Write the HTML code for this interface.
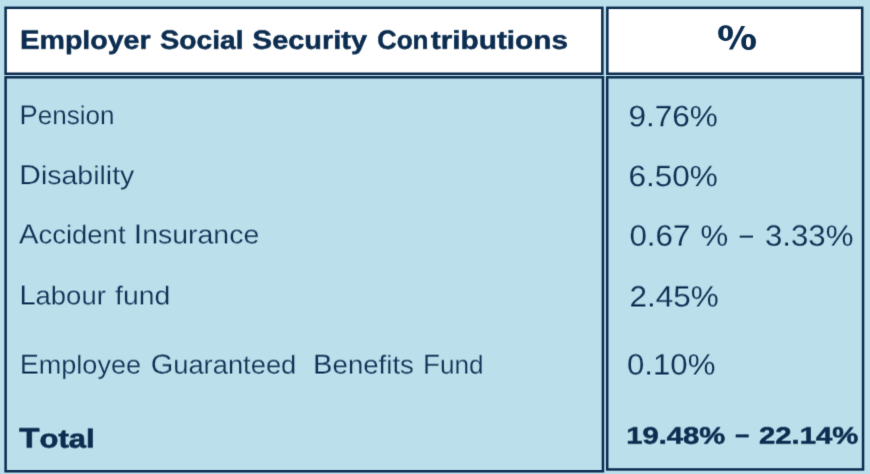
<!DOCTYPE html><html><head><meta charset="utf-8"><title>Employer Social Security Contributions</title><style>
html,body{margin:0;padding:0;}
body{width:870px;height:474px;overflow:hidden;background:#bbdfeb;position:relative;}
svg text{font-family:"Liberation Sans",sans-serif;white-space:pre;text-rendering:geometricPrecision;}
</style></head><body>
<svg width="870" height="474" viewBox="0 0 870 474" style="position:absolute;left:0;top:0;will-change:transform"><defs><filter id="bl" x="0" y="0" width="100%" height="100%" color-interpolation-filters="sRGB"><feConvolveMatrix order="3" kernelMatrix="0.01134 0.08382 0.01134 0.08382 0.61935 0.08382 0.01134 0.08382 0.01134" edgeMode="duplicate" preserveAlpha="true"/></filter><filter id="t0" filterUnits="userSpaceOnUse" x="0" y="0" width="870" height="474" color-interpolation-filters="sRGB"><feConvolveMatrix order="3" kernelMatrix="0.04806 0.35513 0.04806 0.05831 0.43087 0.05831 0.00013 0.00098 0.00013" edgeMode="none" preserveAlpha="false"/></filter><filter id="t1" filterUnits="userSpaceOnUse" x="0" y="0" width="870" height="474" color-interpolation-filters="sRGB"><feConvolveMatrix order="3" kernelMatrix="0.03848 0.28430 0.03848 0.06683 0.49383 0.06683 0.00120 0.00885 0.00120" edgeMode="none" preserveAlpha="false"/></filter><filter id="t2" filterUnits="userSpaceOnUse" x="0" y="0" width="870" height="474" color-interpolation-filters="sRGB"><feConvolveMatrix order="3" kernelMatrix="0.02609 0.19281 0.02609 0.07562 0.55876 0.07562 0.00479 0.03541 0.00479" edgeMode="none" preserveAlpha="false"/></filter><filter id="t3" filterUnits="userSpaceOnUse" x="0" y="0" width="870" height="474" color-interpolation-filters="sRGB"><feConvolveMatrix order="3" kernelMatrix="0.00852 0.06296 0.00852 0.07882 0.58237 0.07882 0.01917 0.14166 0.01917" edgeMode="none" preserveAlpha="false"/></filter><filter id="t4" filterUnits="userSpaceOnUse" x="0" y="0" width="870" height="474" color-interpolation-filters="sRGB"><feConvolveMatrix order="3" kernelMatrix="0.00652 0.04820 0.00652 0.07748 0.57253 0.07748 0.02250 0.16625 0.02250" edgeMode="none" preserveAlpha="false"/></filter><filter id="t5" filterUnits="userSpaceOnUse" x="0" y="0" width="870" height="474" color-interpolation-filters="sRGB"><feConvolveMatrix order="3" kernelMatrix="0.00333 0.02459 0.00333 0.07322 0.54105 0.07322 0.02996 0.22134 0.02996" edgeMode="none" preserveAlpha="false"/></filter><filter id="t6" filterUnits="userSpaceOnUse" x="0" y="0" width="870" height="474" color-interpolation-filters="sRGB"><feConvolveMatrix order="3" kernelMatrix="0.00053 0.00393 0.00053 0.06284 0.46432 0.06284 0.04314 0.31873 0.04314" edgeMode="none" preserveAlpha="false"/></filter><filter id="t7" filterUnits="userSpaceOnUse" x="0" y="0" width="870" height="474" color-interpolation-filters="sRGB"><feConvolveMatrix order="3" kernelMatrix="0.00000 0.00000 0.00000 0.05325 0.39349 0.05325 0.05325 0.39349 0.05325" edgeMode="none" preserveAlpha="false"/></filter><filter id="t8" filterUnits="userSpaceOnUse" x="0" y="0" width="870" height="474" color-interpolation-filters="sRGB"><feConvolveMatrix order="3" kernelMatrix="0.00013 0.00098 0.00013 0.04766 0.35218 0.04766 0.05871 0.43383 0.05871" edgeMode="none" preserveAlpha="false"/></filter></defs><g filter="url(#bl)"><rect x="0" y="0" width="870" height="474" fill="#bbdfeb"/><rect x="4.35" y="6.55" width="599.25" height="68.45" fill="#0c2d50"/><rect x="6.85" y="9.05" width="594.25" height="63.45" fill="#ffffff"/><rect x="606.1" y="6.55" width="257.35" height="68.45" fill="#0c2d50"/><rect x="608.60" y="9.05" width="252.35" height="63.45" fill="#ffffff"/><rect x="4.35" y="76.05" width="599.85" height="396.45" fill="#0c2d50"/><rect x="6.85" y="78.55" width="594.85" height="391.45" fill="#bbdfeb"/><rect x="605.95" y="76.05" width="258.35" height="394.65" fill="#0c2d50"/><rect x="608.45" y="78.55" width="253.35" height="389.65" fill="#bbdfeb"/><rect x="739.7" y="235.6" width="13.3" height="2" fill="#0f3154"/><rect x="735.7" y="434.4" width="13" height="3" fill="#0c2d50"/><g fill="#0c2d50"><rect x="718.2" y="25.2" width="14.7" height="15.7" rx="6.6" ry="7.2"/><rect x="741.3" y="34.1" width="14.6" height="15.9" rx="6.6" ry="7.2"/><path d="M741.3 25.9L745.1 25.9L732.7 49.6L728.9 49.6Z"/></g><g fill="#fff"><rect x="723.2" y="28.0" width="4.9" height="10.2" rx="2.45" ry="4.4"/><rect x="746.0" y="36.9" width="4.9" height="10.3" rx="2.45" ry="4.4"/></g></g><g filter="url(#t0)"><text transform="translate(19.25,448.00) scale(1.1861,1)" font-size="26.1" font-weight="700" fill="#0c2d50" stroke="#0c2d50" stroke-width="0.6" stroke-linejoin="round" vector-effect="non-scaling-stroke"><tspan font-size="27.93">T</tspan>otal</text></g><g filter="url(#t1)"><text transform="translate(629.43,246.00) scale(1.0678,1)" font-size="29.35" font-weight="400" fill="#0f3154" stroke="#bbdfeb" stroke-width="0.1" vector-effect="non-scaling-stroke">0.67</text><text transform="translate(700.43,246.00) scale(1.0621,1)" font-size="29.35" font-weight="400" fill="#0f3154" stroke="#bbdfeb" stroke-width="0.1" vector-effect="non-scaling-stroke">%</text><text transform="translate(764.93,246.00) scale(1.0629,1)" font-size="29.35" font-weight="400" fill="#0f3154" stroke="#bbdfeb" stroke-width="0.1" vector-effect="non-scaling-stroke">3.33%</text><text transform="translate(626.27,444.00) scale(1.2257,1)" font-size="23.8" font-weight="700" fill="#0c2d50" stroke="#0c2d50" stroke-width="0.5" stroke-linejoin="round" vector-effect="non-scaling-stroke">19.48%</text><text transform="translate(758.99,444.00) scale(1.2292,1)" font-size="23.8" font-weight="700" fill="#0c2d50" stroke="#0c2d50" stroke-width="0.5" stroke-linejoin="round" vector-effect="non-scaling-stroke">22.14%</text></g><g filter="url(#t2)"><text transform="translate(19.88,49.00) scale(1.1152,1)" font-size="25.6" font-weight="700" fill="#0c2d50" stroke="#0c2d50" stroke-width="0.5" stroke-linejoin="round" vector-effect="non-scaling-stroke"><tspan font-size="26.37">E</tspan>mployer</text><text transform="translate(160.00,49.00) scale(1.1006,1)" font-size="25.6" font-weight="700" fill="#0c2d50" stroke="#0c2d50" stroke-width="0.5" stroke-linejoin="round" vector-effect="non-scaling-stroke"><tspan font-size="26.37">S</tspan>ocial</text><text transform="translate(252.25,49.00) scale(1.1301,1)" font-size="25.6" font-weight="700" fill="#0c2d50" stroke="#0c2d50" stroke-width="0.5" stroke-linejoin="round" vector-effect="non-scaling-stroke"><tspan font-size="26.37">S</tspan>ecurity</text><text transform="translate(377.23,49.00) scale(1.0184,1)" font-size="25.6" font-weight="700" fill="#0c2d50" stroke="#0c2d50" stroke-width="0.5" stroke-linejoin="round" vector-effect="non-scaling-stroke"><tspan font-size="26.37">C</tspan>on</text><text transform="translate(430.75,49.00) scale(1.1634,1)" font-size="25.6" font-weight="700" fill="#0c2d50" stroke="#0c2d50" stroke-width="0.5" stroke-linejoin="round" vector-effect="non-scaling-stroke">tributions</text></g><g filter="url(#t3)"><text transform="translate(19.49,124.00) scale(1.0049,1)" font-size="25.95" font-weight="400" fill="#0f3154" stroke="#bbdfeb" stroke-width="0.2" vector-effect="non-scaling-stroke"><tspan font-size="27.12">P</tspan>ension</text><text transform="translate(19.31,184.00) scale(1.0977,1)" font-size="25.95" font-weight="400" fill="#0f3154" stroke="#bbdfeb" stroke-width="0.2" vector-effect="non-scaling-stroke"><tspan font-size="27.25">D</tspan>isability</text></g><g filter="url(#t4)"><text transform="translate(628.41,186.00) scale(1.0751,1)" font-size="29.35" font-weight="400" fill="#0f3154" stroke="#bbdfeb" stroke-width="0.1" vector-effect="non-scaling-stroke">6.50%</text></g><g filter="url(#t5)"><text transform="translate(628.42,126.00) scale(1.0751,1)" font-size="29.35" font-weight="400" fill="#0f3154" stroke="#bbdfeb" stroke-width="0.1" vector-effect="non-scaling-stroke">9.76%</text></g><g filter="url(#t6)"><text transform="translate(19.00,243.00) scale(1.0596,1)" font-size="25.95" font-weight="400" fill="#0f3154" stroke="#bbdfeb" stroke-width="0.2" vector-effect="non-scaling-stroke"><tspan font-size="27.51">A</tspan>ccident</text><text transform="translate(133.80,243.00) scale(1.0967,1)" font-size="25.95" font-weight="400" fill="#0f3154" stroke="#bbdfeb" stroke-width="0.2" vector-effect="non-scaling-stroke"><tspan font-size="27.51">I</tspan>nsurance</text><text transform="translate(19.38,304.00) scale(1.0585,1)" font-size="25.95" font-weight="400" fill="#0f3154" stroke="#bbdfeb" stroke-width="0.2" vector-effect="non-scaling-stroke"><tspan font-size="27.51">L</tspan>abour</text><text transform="translate(114.99,304.00) scale(1.0960,1)" font-size="25.95" font-weight="400" fill="#0f3154" stroke="#bbdfeb" stroke-width="0.2" vector-effect="non-scaling-stroke">fund</text></g><g filter="url(#t7)"><text transform="translate(629.41,306.00) scale(1.0722,1)" font-size="29.35" font-weight="400" fill="#0f3154" stroke="#bbdfeb" stroke-width="0.1" vector-effect="non-scaling-stroke">2.45%</text><text transform="translate(626.93,374.00) scale(1.0629,1)" font-size="29.35" font-weight="400" fill="#0f3154" stroke="#bbdfeb" stroke-width="0.1" vector-effect="non-scaling-stroke">0.10%</text></g><g filter="url(#t8)"><text transform="translate(19.66,373.00) scale(1.0428,1)" font-size="25.95" font-weight="400" fill="#0f3154" stroke="#bbdfeb" stroke-width="0.2" vector-effect="non-scaling-stroke"><tspan font-size="27.51">E</tspan>mployee</text><text transform="translate(150.70,373.00) scale(1.0534,1)" font-size="25.95" font-weight="400" fill="#0f3154" stroke="#bbdfeb" stroke-width="0.2" vector-effect="non-scaling-stroke"><tspan font-size="27.51">G</tspan>uaranteed</text><text transform="translate(313.12,373.00) scale(1.0627,1)" font-size="25.95" font-weight="400" fill="#0f3154" stroke="#bbdfeb" stroke-width="0.2" vector-effect="non-scaling-stroke"><tspan font-size="27.51">B</tspan>enefits</text><text transform="translate(422.98,373.00) scale(1.0100,1)" font-size="25.95" font-weight="400" fill="#0f3154" stroke="#bbdfeb" stroke-width="0.2" vector-effect="non-scaling-stroke"><tspan font-size="27.51">F</tspan>und</text></g></svg>
</body></html>
